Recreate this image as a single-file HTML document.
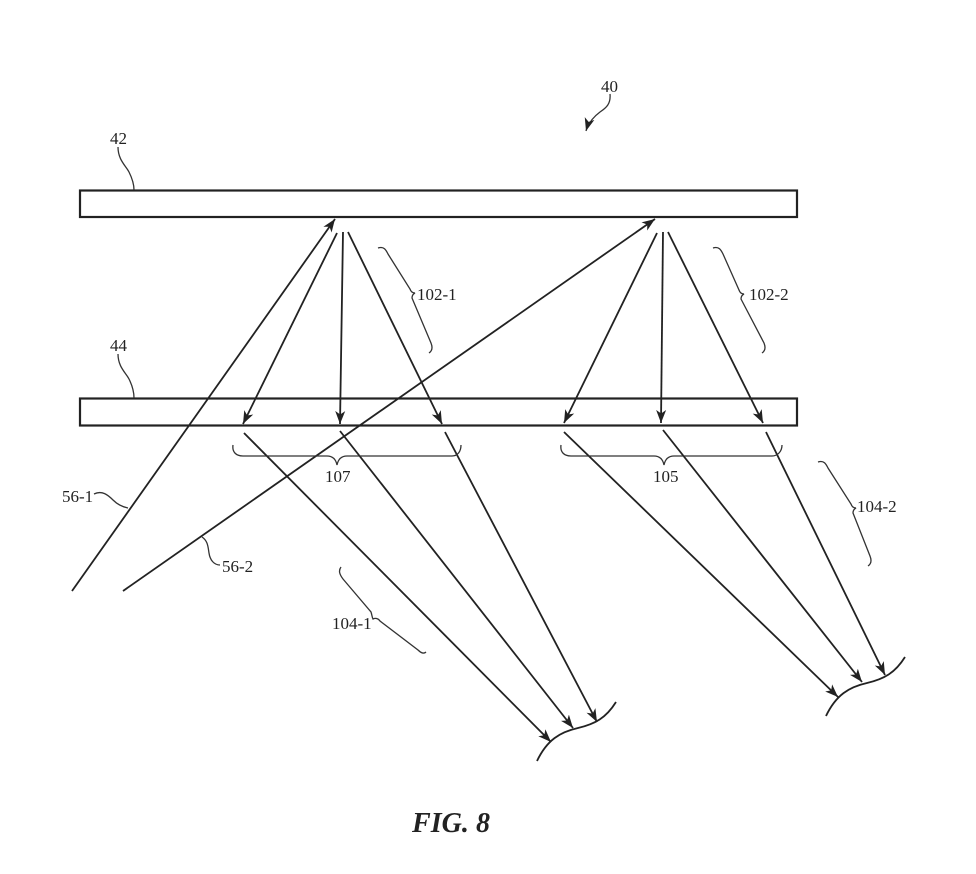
<!DOCTYPE html>
<html><head><meta charset="utf-8"><style>
html,body{margin:0;padding:0;background:#fff;}
svg{display:block;}
text{font-family:"Liberation Serif",serif;fill:#222;}
</style></head><body>
<svg width="976" height="874" viewBox="0 0 976 874" xmlns="http://www.w3.org/2000/svg">
<defs>
<marker id="ah" markerUnits="userSpaceOnUse" markerWidth="15" markerHeight="11" refX="13" refY="5.5" orient="auto">
<path d="M0,0.5 L13,5.5 L0,10.5 L3.5,5.5 z" fill="#222"/>
</marker>
</defs>
<g fill="none" stroke="#222" stroke-width="1.8">
<!-- plates -->
<rect x="80" y="190.5" width="717" height="26.5" stroke-width="2.2"/>
<rect x="80" y="398.5" width="717" height="27" stroke-width="2.2"/>
<!-- input rays -->
<line x1="72" y1="591" x2="335" y2="219" marker-end="url(#ah)"/>
<line x1="123" y1="591" x2="655" y2="219" marker-end="url(#ah)"/>
<!-- 102-1 rays -->
<line x1="337" y1="233" x2="243" y2="424" marker-end="url(#ah)"/>
<line x1="343" y1="232" x2="340" y2="424" marker-end="url(#ah)"/>
<line x1="348" y1="232" x2="442" y2="424" marker-end="url(#ah)"/>
<!-- 102-2 rays -->
<line x1="657" y1="233" x2="564" y2="423" marker-end="url(#ah)"/>
<line x1="663" y1="232" x2="661" y2="423" marker-end="url(#ah)"/>
<line x1="668" y1="232" x2="763" y2="423" marker-end="url(#ah)"/>
<!-- output rays lens 1 -->
<line x1="244" y1="433" x2="551" y2="742" marker-end="url(#ah)"/>
<line x1="340" y1="431" x2="573" y2="728" marker-end="url(#ah)"/>
<line x1="445" y1="432" x2="597" y2="722" marker-end="url(#ah)"/>
<!-- output rays lens 2 -->
<line x1="564" y1="432" x2="838" y2="697" marker-end="url(#ah)"/>
<line x1="663" y1="430" x2="862" y2="682" marker-end="url(#ah)"/>
<line x1="766" y1="432" x2="885" y2="675" marker-end="url(#ah)"/>
<!-- lenses -->
<path d="M537,761 C547,740 560,732 578,728 C595,724 606,718 616,702"/>
<path d="M826,716 C836,695 849,687 867,683 C884,679 895,673 905,657"/>
</g>
<g fill="none" stroke="#333" stroke-width="1.3">
<!-- leaders -->
<path d="M118,147 C118,160 126,166 129,172 C132,178 134,184 134,190"/>
<path d="M118,354 C118,367 126,373 129,379 C132,385 134,391 134,398"/>
<path d="M610,94 C611,104 606,108 600,112 C592,118 588,124 586,131" marker-end="url(#ah)"/>
<path d="M94,494 C102,490 108,495 113,500 C118,505 123,507 128,508"/>
<path d="M202,537 C208,541 208,547 209,553 C210,560 214,565 220,565"/>
<!-- braces -->
<path d="M378,248 C384,246 386,250 388,254 L410,289 C411,292 413,293 415,293 C413,294 412,296 412,298 L431,343 C433,348 432,351 429,353"/>
<path d="M713,248 C719,246 721,250 723,254 L739,290 C740,293 742,294 744,294 C742,295 741,297 741,299 L764,343 C766,348 765,351 762,353"/>
<path d="M818,462 C824,460 826,464 828,468 L851,504 C852,507 854,508 856,508 C854,509 853,511 853,513 L870,556 C872,561 871,564 868,566"/>
<path d="M341,567 C338,571 340,575 343,579 L371,612 C372,615 372,617 373,619 C375,618 378,618 380,621 L418,650 C421,653 424,654 426,652"/>
<path d="M233,445 C232,452 236,456 243,456 L327,456 C333,456 336,460 337,465 C338,460 341,456 347,456 L452,456 C458,456 461,451 461,445"/>
<path d="M561,445 C560,452 564,456 571,456 L654,456 C660,456 663,460 664,465 C665,460 668,456 674,456 L772,456 C778,456 782,451 782,445"/>
</g>
<g font-size="17">
<text x="601" y="92">40</text>
<text x="110" y="144">42</text>
<text x="110" y="351">44</text>
<text x="417" y="300">102-1</text>
<text x="749" y="300">102-2</text>
<text x="325" y="482">107</text>
<text x="653" y="482">105</text>
<text x="857" y="512">104-2</text>
<text x="62" y="502">56-1</text>
<text x="222" y="572">56-2</text>
<text x="332" y="629">104-1</text>
</g>
<text x="412" y="832" font-size="29" font-weight="bold" font-style="italic" textLength="78" lengthAdjust="spacingAndGlyphs">FIG. 8</text>
</svg>
</body></html>
